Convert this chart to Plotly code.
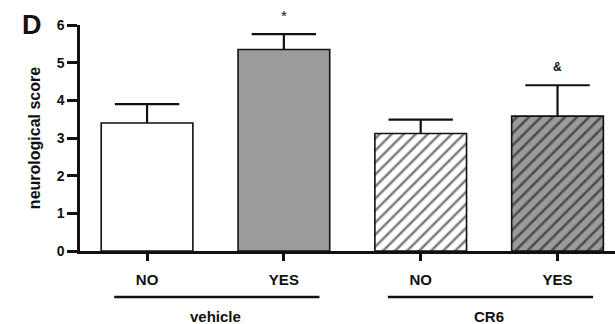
import plotly.graph_objects as go

tick_labels = ["NO", "YES", "NO", "YES"]
means = [3.40, 5.35, 3.12, 3.58]
sem = [0.50, 0.41, 0.37, 0.82]
groups = ["vehicle", "CR6"]
group_spans = [(0, 1), (2, 3)]
marks = ["", "*", "", "&"]

fills = ["white", "#9b9b9b", "white", "#9b9b9b"]
patterns = ["", "", "/", "/"]

FONT = "Liberation Sans, Arial, sans-serif"
xs = list(range(len(means)))

fig = go.Figure()
for i in xs:
    fig.add_trace(go.Bar(
        x=[xs[i]], y=[means[i]], width=0.67,
        marker=dict(color=fills[i], line=dict(color="#111", width=1.6),
                    pattern=dict(shape=patterns[i], fgcolor="#000", bgcolor=fills[i],
                                 size=8.5, solidity=0.3, fillmode="overlay")),
        showlegend=False,
    ))

tops = [m + s for m, s in zip(means, sem)]
fig.add_trace(go.Scatter(
    x=xs, y=tops, mode="markers",
    marker=dict(symbol="line-ew", size=46, line=dict(color="#111", width=2.2)),
    error_y=dict(type="data", symmetric=False, array=[0]*4, arrayminus=sem,
                 color="#111", thickness=2.2, width=0),
    showlegend=False, cliponaxis=False,
))

for i, m in enumerate(marks):
    if m:
        fig.add_annotation(x=xs[i], y=tops[i], text="<b>%s</b>" % m if m == "&" else m,
                           showarrow=False, yanchor="middle",
                           yshift=19 if m == "*" else 18,
                           font=dict(family=FONT, size=15 if m == "*" else 12, color="#111"))

for g, (a, b) in zip(groups, group_spans):
    fig.add_shape(type="line", xref="x", yref="paper", x0=a - 0.24, x1=b + 0.26,
                  y0=-0.2035, y1=-0.2035, line=dict(color="#111", width=2.5))
    fig.add_annotation(x=(a + b) / 2, xref="x", yref="paper", y=-0.292, yanchor="middle",
                       text="<b>%s</b>" % g, showarrow=False,
                       font=dict(family=FONT, size=15, color="#111"))

fig.add_annotation(x=-0.113, y=1.0, xref="paper", yref="paper", xanchor="left", yanchor="middle",
                   text="<b>D</b>", showarrow=False,
                   font=dict(family=FONT, size=27, color="#111"))

fig.update_layout(
    width=615, height=324, margin=dict(l=80, r=0, t=25, b=73),
    plot_bgcolor="white", paper_bgcolor="white", barmode="overlay",
    font=dict(family=FONT, color="#111"),
    xaxis=dict(range=[-0.49, 3.42], tickmode="array", tickvals=xs,
               ticktext=["<b>%s</b>" % t for t in tick_labels], showline=True, linecolor="#111",
               linewidth=2.5, ticks="outside", ticklen=7, tickwidth=2.5, tickcolor="#111",
               showgrid=False, zeroline=False, tickfont=dict(size=15), ticklabelstandoff=6),
    yaxis=dict(range=[0, 6], dtick=1, showline=True, linecolor="#111", linewidth=2.5,
               ticks="outside", ticklen=10, tickwidth=2.5, tickcolor="#111", showgrid=False,
               zeroline=False, tickfont=dict(size=14), tickprefix="<b>", ticksuffix="</b>",
               title=dict(text="<b>neurological score</b>", font=dict(size=16), standoff=13)),
)

fig.write_html("out.html")
